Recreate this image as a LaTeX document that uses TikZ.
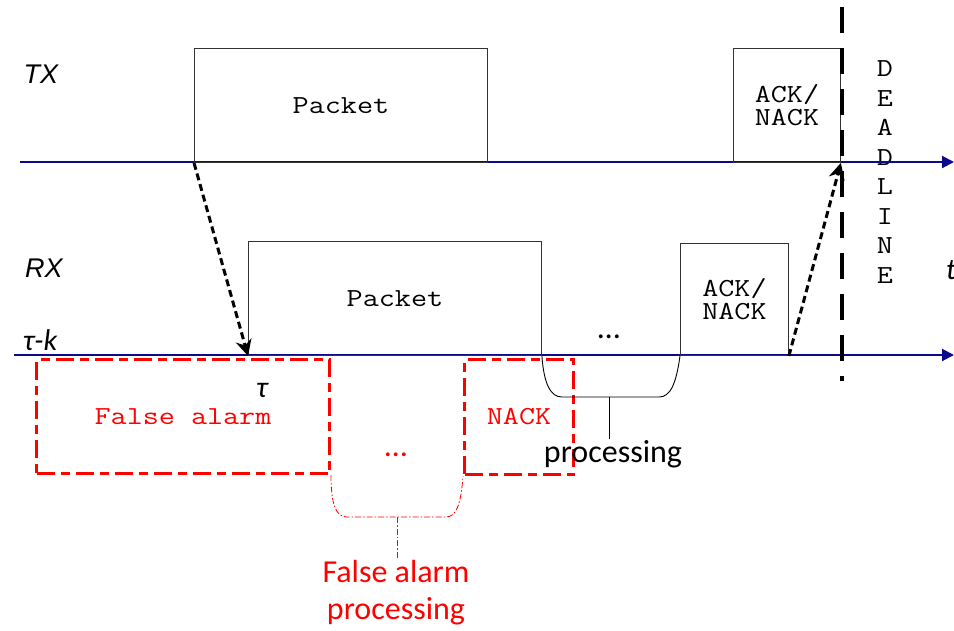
\documentclass[tikz,border=0pt]{standalone}
\usepackage{fontspec}
\setmainfont{Carlito}
\newfontfamily\courf{Latin Modern Mono}[FakeStretch=1.2]
\newfontfamily\arf{Liberation Sans}
\usetikzlibrary{arrows.meta}
\definecolor{axisblue}{RGB}{10,10,140}
\definecolor{alarmred}{RGB}{255,0,0}
\begin{document}
\begin{tikzpicture}[x=1pt,y=-1pt,
  axis/.style={axisblue,line width=2pt,-{Triangle[length=12pt,width=12pt]}},
  box/.style={draw=black!80,line width=0.9pt,inner sep=0pt,align=center,
    font=\courf\fontsize{26}{23}\selectfont},
  redbox/.style={draw=alarmred,line width=3pt,dash pattern=on 18pt off 6pt on 9pt off 6pt,
    inner sep=0pt,align=center,text=alarmred,font=\courf\fontsize{26}{23}\selectfont},
  sig/.style={black,line width=3pt,dash pattern=on 7pt off 4pt,-{Stealth[length=16pt,width=16pt]}},
  deadl/.style={black,line width=3.5pt,dash pattern=on 26pt off 15pt},
  redbrace/.style={alarmred,line width=0.8pt,dash pattern=on 6pt off 2pt on 1.5pt off 2pt},
  blackbrace/.style={black,line width=0.9pt},
  lab/.style={inner sep=0pt,font=\arf\itshape\fontsize{27}{30}\selectfont},
  glab/.style={inner sep=0pt,font=\itshape\fontsize{30}{32}\selectfont},
  caltext/.style={inner sep=1pt,align=center,font=\fontsize{32}{37}\selectfont}
]
\useasboundingbox (0,0) rectangle (954,630);

% DEADLINE text
\node[inner sep=0pt,align=center,font=\courf\fontsize{26}{29.5}\selectfont] (dl) at (885,172)
  {D\\E\\A\\D\\L\\I\\N\\E};

% axes
\coordinate (txs) at (20,162);
\coordinate (txe) at (954,162);
\coordinate (rxs) at (14,355);
\coordinate (rxe) at (954,355);
\draw[axis] (txs) -- (txe);
\draw[axis] (rxs) -- (rxe);

% boxes
\node[box,minimum width=293pt,minimum height=114pt,anchor=north west] (ptx) at (194,48) {Packet};
\node[box,minimum width=107pt,minimum height=114pt,anchor=north west] (atx) at (733,48) {ACK/\\NACK};
\node[box,minimum width=293pt,minimum height=114pt,anchor=north west] (prx) at (248,241) {Packet};
\node[box,minimum width=108pt,minimum height=112pt,anchor=north west] (arx) at (680,243) {ACK/\\NACK};

\node[redbox,minimum width=293pt,minimum height=114pt,anchor=north west] (fa) at (35,358) {False alarm};
\node[redbox,minimum width=109pt,minimum height=115pt,anchor=north west] (nk) at (463,358) {NACK};

% dots
\node[caltext] (dots1) at (609,337) {…};
\node[caltext,text=alarmred] (dots2) at (396,455) {…};

% labels
\node[lab] (txl) at (41,74) {TX};
\node[lab] (rxl) at (44,268) {RX};
\node[glab] (tkl) at (40,340) {τ-k};
\node[glab] (taul) at (262,390) {τ};
\node[glab,anchor=west] (tl) at (946,270) {t};

% signalling arrows
\draw[sig] (ptx.south west) -- (prx.south west);
\draw[sig] (arx.south east) -- (atx.south east);

% deadline
\coordinate (dlt) at (842,7);
\coordinate (dlb) at (842,381);
\draw[deadl] (dlt) -- (dlb);

% processing brace
\node[caltext,anchor=base] (proc) at (613,462) {processing};
\coordinate (pstem) at (609,397);
\draw[blackbrace] (prx.south east) .. controls (544,385) and (551,397) .. (562,397)
  -- (659,397) .. controls (670,397) and (676,385) .. (arx.south west);
\draw[blackbrace] (pstem) -- (pstem |- proc.north);

% false alarm processing brace
\node[caltext,text=alarmred] (fap) at (396,593) {False alarm\\processing};
\coordinate (rstem) at (397,517);
\draw[redbrace] (fa.south east) .. controls (331,505) and (336,517) .. (347,517)
  -- (446,517) .. controls (456,517) and (461,505) .. (nk.south west);
\draw[redbrace] (rstem) -- (rstem |- fap.north);
\end{tikzpicture}
\end{document}
